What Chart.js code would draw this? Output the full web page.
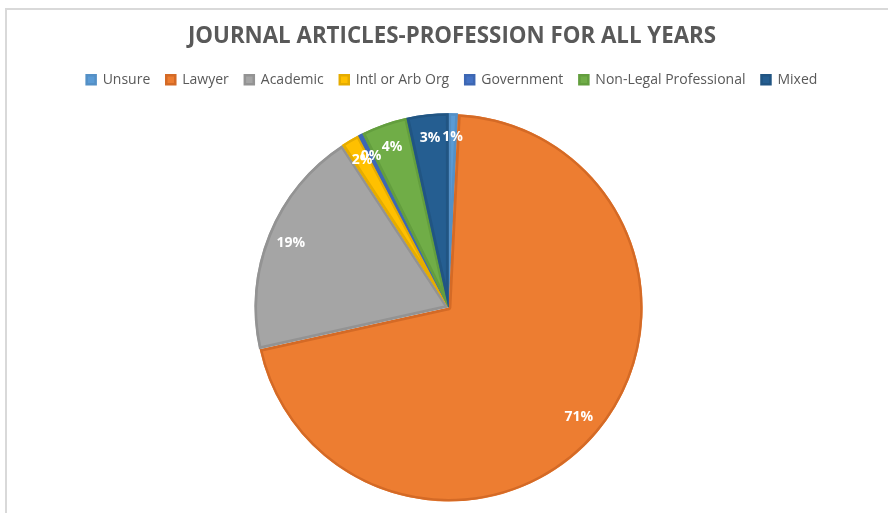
<!DOCTYPE html>
<html>
<head>
<meta charset="utf-8">
<script src="https://cdn.jsdelivr.net/npm/chart.js@4/dist/chart.umd.min.js"></script>
<style>
  html, body { margin: 0; padding: 0; background: #fff; overflow: hidden; width: 888px; height: 513px; }
  #frame { position: absolute; left: 5px; top: 8px; width: 900px; height: 520px;
           border-left: 2px solid #d9d9d9; border-top: 2px solid #d9d9d9; }
  #wrap { position: absolute; left: 0; top: 0; width: 890px; height: 505px; }
</style>
</head>
<body>
<div id="frame"><div id="wrap"><canvas id="c"></canvas></div></div>
<script>
// Journal articles by author profession, all years (article counts)
const categories = ['Unsure', 'Lawyer', 'Academic', 'Intl or Arb Org', 'Government', 'Non-Legal Professional', 'Mixed'];
const articleCounts = [2, 184, 50, 4, 1, 10, 9];
const sliceColors = ['#5B9BD5', '#ED7D31', '#A5A5A5', '#FFC000', '#4472C4', '#70AD47', '#255E91'];
const edgeColors = ['#5490C6', '#D46A26', '#939393', '#E5AC00', '#3D67B3', '#639E3E', '#215583'];

const FONT = "'Open Sans', 'Liberation Sans', sans-serif";

// Extra room between the legend and the pie, and a slight shift of the pie to the left
const plotInset = { top: 16, right: 7 };
const pieBox = {
  id: 'pieBox',
  afterLayout(chart) {
    const a = chart.chartArea;
    a.top += plotInset.top;
    a.right -= plotInset.right;
    a.width = a.right - a.left;
    a.height = a.bottom - a.top;
  }
};

// Percentage labels written inside each slice
const sliceLabels = {
  id: 'sliceLabels',
  afterDatasetsDraw(chart) {
    const ctx = chart.ctx;
    const meta = chart.getDatasetMeta(0);
    const data = chart.data.datasets[0].data;
    const total = data.reduce((a, b) => a + b, 0);
    ctx.save();
    ctx.fillStyle = '#ffffff';
    ctx.font = 'bold 14px ' + FONT;
    ctx.textAlign = 'center';
    ctx.textBaseline = 'middle';
    meta.data.forEach((arc, i) => {
      const p = arc.getProps(['x', 'y', 'startAngle', 'endAngle', 'outerRadius'], true);
      const mid = (p.startAngle + p.endAngle) / 2;
      const r = p.outerRadius * 0.88;
      const txt = Math.round(data[i] / total * 100) + '%';
      ctx.fillText(txt, p.x + Math.cos(mid) * r, p.y + Math.sin(mid) * r);
    });
    ctx.restore();
  }
};

new Chart(document.getElementById('c'), {
  type: 'pie',
  data: {
    labels: categories,
    datasets: [{
      data: articleCounts,
      backgroundColor: sliceColors,
      borderColor: edgeColors,
      borderWidth: 2.5,
      borderAlign: 'inner',
      offset: 2
    }]
  },
  options: {
    responsive: true,
    maintainAspectRatio: false,
    animation: false,
    layout: { padding: { top: 0, bottom: 13, left: 0, right: 0 } },
    plugins: {
      tooltip: { enabled: false },
      title: {
        display: true,
        text: 'JOURNAL ARTICLES-PROFESSION FOR ALL YEARS',
        color: '#595959',
        font: { family: FONT, size: 22.3, weight: 'bold' },
        padding: { top: 13, bottom: 7 }
      },
      legend: {
        position: 'top',
        labels: {
          color: '#595959',
          font: { family: FONT, size: 14 },
          boxWidth: 9,
          boxHeight: 9,
          padding: 16
        }
      }
    }
  },
  plugins: [pieBox, sliceLabels]
});
</script>
</body>
</html>
